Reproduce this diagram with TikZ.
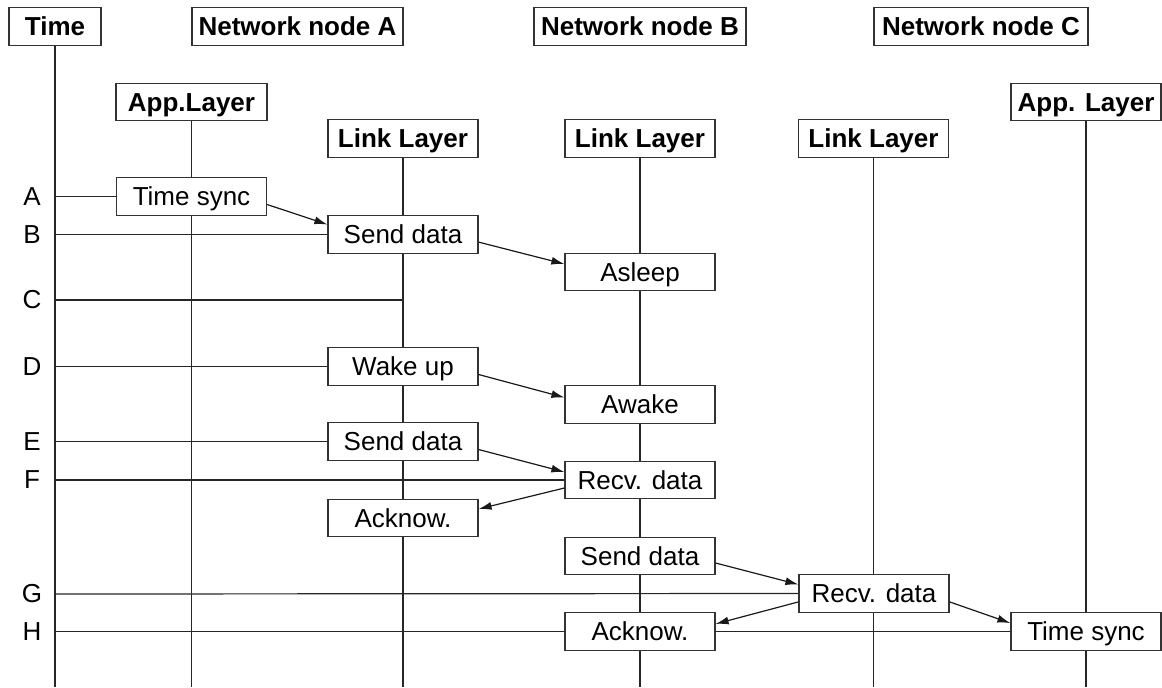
\documentclass[tikz,border=0pt]{standalone}
\usepackage{fontspec}
\setmainfont{Liberation Sans}
\usetikzlibrary{arrows.meta,backgrounds}
\begin{document}
\begin{tikzpicture}[x=0.5pt,y=-0.5pt,
  every node/.style={font=\fontsize{13}{15}\selectfont},
  box/.style={draw=black!80, fill=white, line width=0.6pt,
    minimum width=75pt, minimum height=18.75pt, inner sep=0pt,
    text height=9.5pt, text depth=0.4pt},
  head/.style={box, font=\fontsize{13}{15}\selectfont\bfseries},
  lifeline/.style={draw=black!85, line width=0.6pt},
  tick/.style={draw=black!85, line width=0.6pt},
  msg/.style={draw=black!90, line width=0.6pt, -{Latex[length=6.5pt,width=4pt]}},
  rowlabel/.style={inner sep=0pt}
]
\useasboundingbox (0,0) rectangle (1162,687);

% column headers
\node[head, minimum width=46pt]    (time)  at (55,26.5)   {Time};
\node[head, minimum width=105.5pt] (netA)  at (297.5,26.5) {Network node A};
\node[head, minimum width=106pt]   (netB)  at (640,26.5)  {Network node B};
\node[head, minimum width=107pt]   (netC)  at (981,26.5)  {Network node C};

% layer headers
\node[head, minimum width=75.5pt] (appA) at (191.5,102)  {App.Layer};
\node[head] (lkA)  at (403,138.5)  {Link Layer};
\node[head] (lkB)  at (640,138.5)  {Link Layer};
\node[head] (lkC)  at (873.5,138.5) {Link Layer};
\node[head] (appC) at (1086,102)   {App. Layer};

% event boxes
\node[box] (tsA)    at (191.5,196.5) {Time sync};
\node[box] (sdA)    at (403,234.5)   {Send data};
\node[box] (asleep) at (640,272)     {Asleep};
\node[box] (wake)   at (403,366.5)   {Wake up};
\node[box] (awake)  at (640,404.5)   {Awake};
\node[box] (sdE)    at (403,441.5)   {Send data};
\node[box] (recvB)  at (640,480)     {Recv. data};
\node[box] (ackA)   at (403,518)     {Acknow.};
\node[box] (sdB)    at (640,556)     {Send data};
\node[box] (recvC)  at (874,593.5)   {Recv. data};
\node[box] (ackB)   at (640,631.5)   {Acknow.};
\node[box] (tsC)    at (1086,631.5)  {Time sync};

% time marks
\foreach \n/\y in {A/196.5,B/234.5,C/300,D/366.5,E/441.5,F/480,G/594,H/631.5}{
  \node[rowlabel] (l\n) at (32,\y) {\n};
  \coordinate (t\n) at (55,\y);
}
\coordinate (bottom) at (0,687);

\begin{pgfonlayer}{background}
  % lifelines
  \foreach \n in {time,appA,lkA,lkB,lkC,appC}
    \draw[lifeline] (\n.south) -- (\n.south |- bottom);
  % horizontal time marks
  \draw[tick] (tA) -- (tsA.west);
  \draw[tick] (tB) -- (sdA.west);
  \draw[tick] (tC) -- (tC -| lkA);
  \draw[tick] (tD) -- (wake.west);
  \draw[tick] (tE) -- (sdE.west);
  \draw[tick] (tF) -- (recvB.west);
  \draw[tick] (tG) -- (recvC.west);
  \draw[tick] (tH) -- (ackB.west);
  \draw[tick] (ackB.east) -- (tsC.west);
\end{pgfonlayer}

% messages
\draw[msg] ([yshift=-4pt]tsA.east)    -- ([yshift=5pt]sdA.west);
\draw[msg] ([yshift=-3.8pt]sdA.east)  -- ([yshift=4pt]asleep.west);
\draw[msg] ([yshift=-4pt]wake.east)   -- ([yshift=3.5pt]awake.west);
\draw[msg] ([yshift=-4pt]sdE.east)    -- ([yshift=4pt]recvB.west);
\draw[msg] ([yshift=-4pt]recvB.west)  -- ([yshift=4.5pt]ackA.east);
\draw[msg] ([yshift=-3.5pt]sdB.east)  -- ([yshift=4.5pt]recvC.west);
\draw[msg] ([yshift=-4.2pt]recvC.west) -- ([yshift=3.8pt]ackB.east);
\draw[msg] ([yshift=-4.2pt]recvC.east) -- ([yshift=4.2pt]tsC.west);
\end{tikzpicture}
\end{document}
